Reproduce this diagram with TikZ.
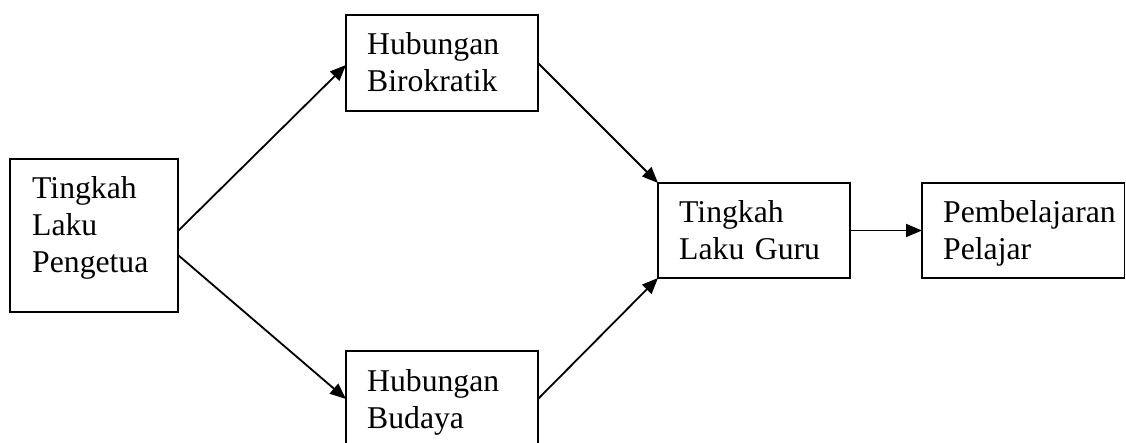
\documentclass[tikz,border=0pt]{standalone}
\usepackage{fontspec}
\setmainfont{Liberation Serif}
\usetikzlibrary{arrows.meta,calc}
\begin{document}
\begin{tikzpicture}[x=1pt,y=-1pt,
  box/.style={draw=black, line width=1.9pt, rectangle, inner sep=0pt, outer sep=0pt, anchor=north west},
  lbl/.style={anchor=base west, inner sep=0pt, align=left, text width=185pt, font=\fontsize{31.7}{37}\selectfont},
  conn/.style={line width=1.8pt, -{Triangle[length=16pt,width=13pt]}}]
\clip (0,0) rectangle (1126,443);
\fill[white] (0,0) rectangle (1126,443);
% boxes
\node[box, minimum width=168pt, minimum height=153pt] (L) at (10,159) {};
\node[box, minimum width=192pt, minimum height=96pt] (T) at (346,15) {};
\node[box, minimum width=192pt, minimum height=96pt] (B) at (346,351) {};
\node[box, minimum width=192pt, minimum height=95pt] (M) at (658,183) {};
\node[box, minimum width=202.5pt, minimum height=95pt] (R) at (922,183) {};
% texts
\node[lbl] (Lt) at ($(L.north west)+(22,40)$) {Tingkah\\Laku\\Pengetua};
\node[lbl] (Tt) at ($(T.north west)+(21,40)$) {Hubungan\\Birokratik};
\node[lbl] (Bt) at ($(B.north west)+(21,40)$) {Hubungan\\Budaya};
\node[lbl] (Mt) at ($(M.north west)+(21,40)$) {Tingkah\\Laku Guru};
\node[lbl] (Rt) at ($(R.north west)+(21,40)$) {Pembelajaran\\Pelajar};
% connectors
\draw[conn] ([yshift=4.5pt]L.east) -- ([yshift=-2pt]T.west);
\draw[conn] ([yshift=-19.5pt]L.east) -- (B.west);
\draw[conn] (T.east) -- (M.north west);
\draw[conn] (B.east) -- (M.south west);
\draw[conn] (M.east) -- (R.west);
\end{tikzpicture}
\end{document}
